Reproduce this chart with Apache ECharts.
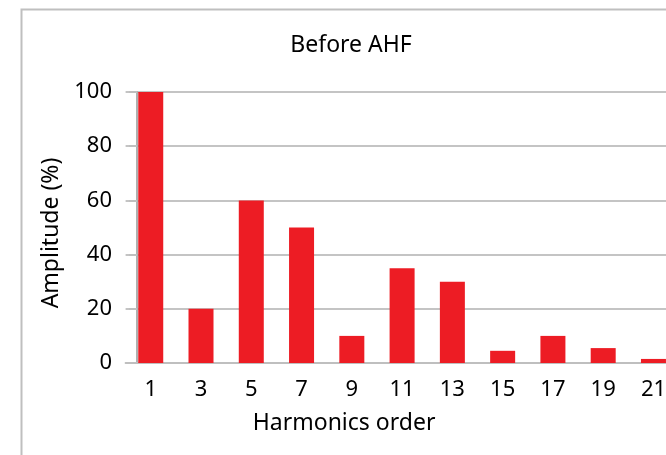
<!DOCTYPE html>
<html>
<head>
<meta charset="utf-8">
<script src="https://cdn.jsdelivr.net/npm/echarts@6/dist/echarts.min.js"></script>
<style>html,body{margin:0;padding:0;background:#fff;overflow:hidden;width:666px;height:455px;}#c{width:690px;height:455px;}</style>
</head>
<body>
<div id="c"></div>
<script>
const categories = ['1','3','5','7','9','11','13','15','17','19','21'];
const amplitude = [100, 20, 60, 50, 10, 35, 30, 4.5, 10, 5.5, 1.5];
const yTicks = {min: 0, max: 100, interval: 20};
const titleText = 'Before AHF';
const xName = 'Harmonics order';
const yName = 'Amplitude (%)';

const FONT = '"Noto Sans", "Open Sans", sans-serif';
const chart = echarts.init(document.getElementById('c'), null, {renderer: 'canvas'});
chart.setOption({
  animation: false,
  backgroundColor: '#ffffff',
  title: {
    text: titleText,
    left: 351, top: 34, textAlign: 'center', padding: 0,
    textStyle: {fontFamily: FONT, fontSize: 23, fontWeight: 'normal', color: '#000'}
  },
  graphic: [{
    type: 'rect', left: 19, top: 7, silent: true,
    shape: {width: 720, height: 520},
    style: {fill: 'none', stroke: '#bfbfbf', lineWidth: 2}
  }],
  grid: {left: 125.6, top: 92, width: 553, height: 271, containLabel: false},
  xAxis: {
    type: 'category',
    data: categories,
    axisLine: {show: true, lineStyle: {color: '#bfbfbf', width: 2}},
    axisTick: {show: false},
    axisLabel: {fontFamily: FONT, fontSize: 22, color: '#000', margin: 16, interval: 0},
    name: xName, nameLocation: 'middle', nameGap: 49,
    nameTextStyle: {fontFamily: FONT, fontSize: 23, color: '#000', padding: [0, 116, 0, 0]}
  },
  yAxis: {
    type: 'value',
    min: yTicks.min, max: yTicks.max, interval: yTicks.interval,
    offset: -11.4,
    axisLine: {show: true, lineStyle: {color: '#b0b0b0', width: 2}},
    axisTick: {show: true, length: 8, lineStyle: {color: '#bfbfbf', width: 2}},
    splitLine: {show: true, lineStyle: {color: '#c4c4c4', width: 2}},
    axisLabel: {fontFamily: FONT, fontSize: 22, color: '#000', margin: 25},
    name: yName, nameLocation: 'middle', nameGap: 73,
    nameTextStyle: {fontFamily: FONT, fontSize: 23, color: '#000', padding: [0, 11, 0, 0]}
  },
  series: [{
    type: 'bar',
    data: amplitude,
    barWidth: 25,
    itemStyle: {color: '#ed1c24'}
  }]
});
</script>
</body>
</html>
